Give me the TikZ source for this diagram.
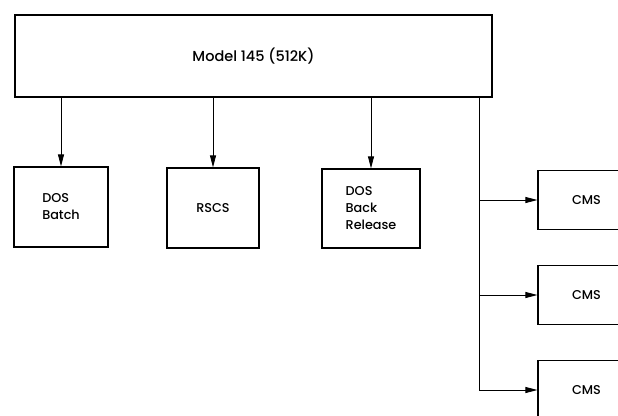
\documentclass[tikz,border=0pt]{standalone}
\usepackage{fontspec}
\setmainfont{Poppins}[UprightFont=* Medium]
\usetikzlibrary{arrows.meta}

\begin{document}
\begin{tikzpicture}[x=1pt,y=-1pt,
			every node/.style={font=\fontsize{12.8}{17}\selectfont},
			box/.style={draw,line width=1.2pt,inner sep=0pt,align=left},
			cmsbox/.style={box,minimum width=97pt,minimum height=59pt},
			feed/.style={-{Triangle[length=12pt,width=6pt]},line width=0.8pt}]
			\useasboundingbox (0,0) rectangle (618,415);
			
			\node[box,line width=1.5pt,minimum width=477pt,minimum height=82pt,
			font=\fontsize{14.5}{17}\selectfont] (model) at (253.5,56) {Model 145 (512K)};
			
			\node[box,minimum width=94pt,minimum height=80pt] (batch) at (61,207) {DOS\\Batch};
			\node[box,minimum width=92pt,minimum height=80pt] (rscs) at (213,208) {RSCS};
			\node[box,minimum width=98pt,minimum height=79pt] (release) at (371,208.5) {DOS\\Back\\Release};
			
			\node[cmsbox] (cms1) at (586.5,200) {CMS};
			\node[cmsbox] (cms2) at (586.5,295) {CMS};
			\node[cmsbox] (cms3) at (586.5,390) {CMS};
			
			\draw[feed] (model.south -| batch.north) -- (batch.north);
			\draw[feed] (model.south -| rscs.north) -- (rscs.north);
			\draw[feed] (model.south -| release.north) -- (release.north);
			
			%trunk to the CMS machines
			\coordinate (tap) at (model.south -| 479,0);
			\draw[line width=0.8pt] (tap) -- (tap |- cms3.west);
			\draw[feed] (tap |- cms1.west) -- (cms1.west);
			\draw[feed] (tap |- cms2.west) -- (cms2.west);
			\draw[feed] (tap |- cms3.west) -- (cms3.west);
		\end{tikzpicture}
\end{document}
